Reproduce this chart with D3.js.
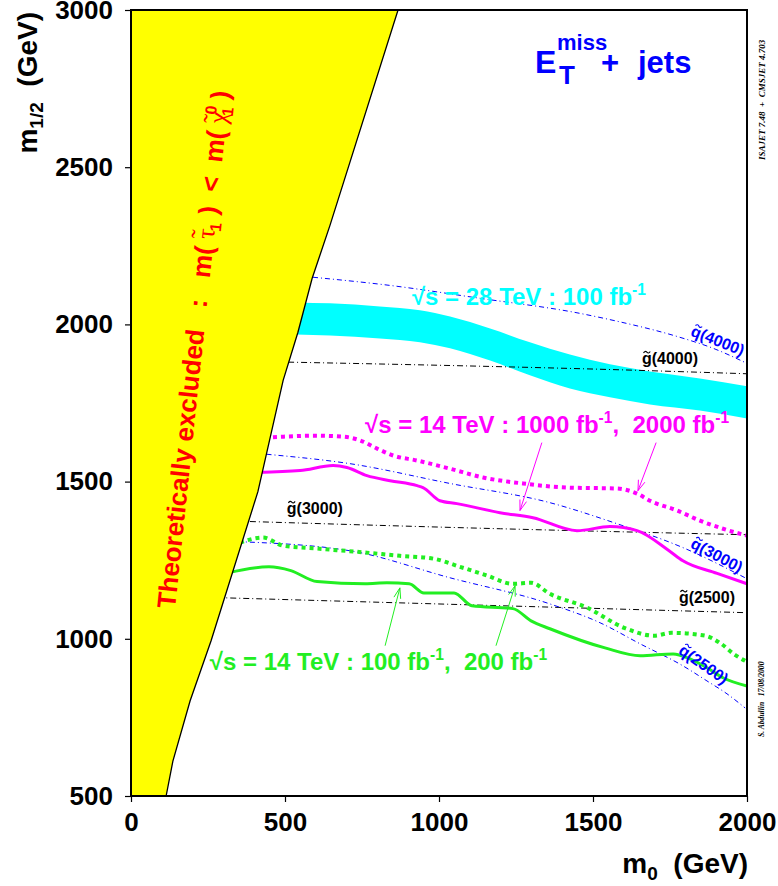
<!DOCTYPE html>
<html><head><meta charset="utf-8">
<script src="https://cdn.jsdelivr.net/npm/d3@7/dist/d3.min.js"></script>
<style>
body{margin:0;background:#fff;}
svg text{font-family:"Liberation Sans",Arial,Helvetica,sans-serif;font-weight:bold;white-space:pre;}
</style></head><body>
<svg id="chart" width="778" height="886"></svg>
<script>
// ---------------- data ----------------
const xDomain = [0, 2000];
const yDomain = [500, 3000];
const xMajorTicks = [0, 500, 1000, 1500, 2000];
const yMajorTicks = [500, 1000, 1500, 2000, 2500, 3000];
const xMinorTicks = d3.range(0, 2001, 100);
const yMinorTicks = d3.range(500, 3001, 100);

// theoretically excluded boundary (m0, m1/2)
const excludedBoundary = [[114,500],[136,611],[192,803],[260,994],[412,1468],[494,1822],[542,1975],[588,2146],[646,2315],[867,3000]];

// 28 TeV, 100 fb-1 band
const band28M0    = [500, 536, 646, 808, 938, 1036, 1166, 1295, 1425, 1555, 1685, 1847, 2000];
const band28Upper = [2072,2070,2067,2057,2045,2025,1987,1943,1904,1873,1850,1828,1803];
const band28Lower = [1970,1968,1965,1955,1943,1924,1885,1838,1796,1768,1745,1726,1701];

// 14 TeV reach contours
const reach14_2000fb = [[435,1640],[494,1643],[604,1646],[688,1643],[744,1631],[799,1605],[851,1583],[929,1567],[1036,1541],[1143,1513],[1273,1494],[1416,1481],[1578,1478],[1643,1462],[1685,1439],[1773,1408],[1847,1376],[1922,1350],[2000,1328]];
const reach14_1000fb = [[412,1529],[549,1535],[656,1551],[701,1545],[766,1519],[841,1503],[929,1487],[948,1481],[1003,1439],[1058,1430],[1198,1401],[1305,1385],[1448,1344],[1555,1357],[1643,1344],[1747,1280],[1792,1248],[1903,1208],[2000,1175]];
const reach14_200fb  = [[354,1306],[429,1322],[494,1296],[604,1287],[766,1274],[873,1264],[981,1255],[1068,1229],[1156,1201],[1240,1175],[1299,1178],[1360,1143],[1481,1099],[1601,1035],[1698,1010],[1756,1019],[1864,1010],[1912,987],[1961,949],[2000,927]];
const reach14_100fb  = [[315,1210],[448,1229],[519,1217],[604,1182],[760,1175],[831,1178],[903,1175],[951,1146],[1049,1146],[1107,1105],[1240,1096],[1299,1057],[1360,1032],[1539,971],[1653,946],[1760,952],[1815,936],[1870,908],[1922,876],[2000,850]];

// iso-mass lines
const gluino4000 = [[510,1880],[1000,1870],[1500,1858],[2000,1843]];
const gluino3000 = [[386,1373],[1200,1350],[2000,1331]];
const gluino2500 = [[280,1131],[1100,1108],[2000,1083]];
const squark4000 = [[591,2150],[841,2124],[1133,2083],[1458,2035],[1565,2013],[1782,1959],[1890,1924],[2000,1876]];
const squark3000 = [[440,1587],[711,1557],[1036,1494],[1360,1433],[1578,1366],[1792,1290],[2000,1191]];
const squark2500 = [[347,1309],[711,1280],[1036,1194],[1360,1111],[1523,1051],[1653,984],[1792,914],[1870,866],[1935,825],[1994,780]];

// labels
const gluinoLabels = [{t:"g(4000)", m0:1659, m12:1874},{t:"g(3000)", m0:506, m12:1397},{t:"g(2500)", m0:1779, m12:1114}];
const squarkLabels = [{t:"q(4000)", m0:1906, m12:1950, rot:22},{t:"q(3000)", m0:1903, m12:1267, rot:28},{t:"q(2500)", m0:1860, m12:920, rot:35}];
const magentaArrows = [[[1334,1624],[1263,1408]],[[1705,1624],[1646,1471]]];
const greenArrows   = [[[825,978],[873,1162]],[[1185,978],[1247,1169]]];

// ---------------- drawing ----------------
const svg = d3.select("#chart");
const x = d3.scaleLinear().domain(xDomain).range([131, 747]);
const y = d3.scaleLinear().domain(yDomain).range([796, 10]);

const CYAN="#00ffff", MAG="#ff00ff", GREEN="#22ee22", BLUE="#0000ff", YEL="#ffff00", RED="#ff0000";

svg.append("defs").append("clipPath").attr("id","clip")
  .append("rect").attr("x",131).attr("y",10).attr("width",616).attr("height",786);
const plot = svg.append("g").attr("clip-path","url(#clip)");

const curve = d3.line().x(d=>x(d[0])).y(d=>y(d[1])).curve(d3.curveMonotoneX);

// band
const area = d3.area().x(d=>x(d[0])).y0(d=>y(d[1])).y1(d=>y(d[2])).curve(d3.curveMonotoneX);
plot.append("path").datum(band28M0.map((m,i)=>[m, band28Lower[i], band28Upper[i]]))
  .attr("d", area).attr("fill", CYAN);

// iso-mass lines
[gluino4000, gluino3000, gluino2500].forEach(d=>{
  plot.append("path").datum(d).attr("d", curve).attr("fill","none")
    .attr("stroke","#000").attr("stroke-width",1).attr("stroke-dasharray","6,3,1,3");
});
[squark4000, squark3000, squark2500].forEach(d=>{
  plot.append("path").datum(d).attr("d", curve).attr("fill","none")
    .attr("stroke",BLUE).attr("stroke-width",1).attr("stroke-dasharray","5,3,1,3");
});

// reach contours
plot.append("path").datum(reach14_2000fb).attr("d",curve).attr("fill","none")
  .attr("stroke",MAG).attr("stroke-width",4).attr("stroke-dasharray","4,4");
plot.append("path").datum(reach14_1000fb).attr("d",curve).attr("fill","none")
  .attr("stroke",MAG).attr("stroke-width",3);
plot.append("path").datum(reach14_200fb).attr("d",curve).attr("fill","none")
  .attr("stroke",GREEN).attr("stroke-width",4).attr("stroke-dasharray","4,4");
plot.append("path").datum(reach14_100fb).attr("d",curve).attr("fill","none")
  .attr("stroke",GREEN).attr("stroke-width",3);

// excluded region
const straight = d3.line().x(d=>x(d[0])).y(d=>y(d[1]));
const poly = [[0,500]].concat(excludedBoundary).concat([[0,3000]]);
plot.append("path").datum(poly).attr("d", straight).attr("fill",YEL).attr("stroke","none");
plot.append("path").datum(excludedBoundary).attr("d", straight)
  .attr("fill","none").attr("stroke","#000").attr("stroke-width",1.3);

// axes
const axB = svg.append("g").attr("transform","translate(0,796)");
axB.call(d3.axisBottom(x).tickValues(xMinorTicks).tickSize(3).tickFormat(""));
axB.call(d3.axisBottom(x).tickValues(xMajorTicks).tickSize(6).tickPadding(11).tickFormat(d3.format("d")));
const axL = svg.append("g").attr("transform","translate(131,0)");
axL.call(d3.axisLeft(y).tickValues(yMinorTicks).tickSize(3).tickFormat(""));
axL.call(d3.axisLeft(y).tickValues(yMajorTicks).tickSize(6).tickPadding(12).tickFormat(d3.format("d")));
svg.selectAll(".domain").remove();
svg.selectAll(".tick line").attr("stroke","#000").attr("stroke-width",1.2);
svg.selectAll(".tick text").filter(function(){ return this.textContent === ""; }).remove();
svg.selectAll(".tick text").style("font-size","26px").style("font-family","'Liberation Sans',Arial,sans-serif").style("font-weight","bold").attr("fill","#000");
svg.append("rect").attr("x",131).attr("y",10).attr("width",616).attr("height",786)
  .attr("fill","none").attr("stroke","#000").attr("stroke-width",2);

// axis titles
const yl = svg.append("text").attr("transform","translate(37,12) rotate(-90)")
  .attr("text-anchor","end").style("font-size","28px");
yl.append("tspan").text("m");
yl.append("tspan").text("1/2").style("font-size","19px").attr("dy",6);
yl.append("tspan").text("  (GeV)").attr("dy",-6);
const xl = svg.append("text").attr("x",748).attr("y",873).attr("text-anchor","end").style("font-size","28px");
xl.append("tspan").text("m");
xl.append("tspan").text("0").style("font-size","19px").attr("dy",7);
xl.append("tspan").text("  (GeV)").attr("dy",-7);

// title
const tg = svg.append("g").attr("fill",BLUE);
tg.append("text").attr("x",535).attr("y",73).style("font-size","32px").text("E");
tg.append("text").attr("x",557).attr("y",50).style("font-size","22px").text("miss");
tg.append("text").attr("x",559).attr("y",84).style("font-size","26px").text("T");
tg.append("text").attr("x",601).attr("y",73).style("font-size","31px").text("+");
tg.append("text").attr("x",638).attr("y",73).style("font-size","31px").text("jets");

// side notes
svg.append("text").attr("transform","translate(765,160) rotate(-90)")
  .style("font-family","'Liberation Serif','Times New Roman',serif").style("font-style","italic")
  .style("font-size","9px").attr("fill","#000").text("ISAJET 7.48  +  CMSJET 4.703");
svg.append("text").attr("transform","translate(764,737) rotate(-90)")
  .style("font-family","'Liberation Serif','Times New Roman',serif").style("font-style","italic")
  .style("font-size","7.6px").attr("fill","#000").text("S. Abdullin   17/08/2000");

// helper: sparticle label with a drawn tilde over the first letter
function tildeMark(g, cx, cy, w, color){
  const h = w*0.28;
  g.append("path").attr("d", `M${cx-w/2},${cy+h*0.4} Q${cx-w/4},${cy-h} ${cx},${cy} T${cx+w/2},${cy-h*0.4}`)
    .attr("fill","none").attr("stroke",color).attr("stroke-width",1.1);
}
function tildeLabel(g, str, fs, color, x0){
  g.append("text").attr("x", x0).attr("y", 0).style("font-size", fs+"px").attr("fill", color).text(str);
  tildeMark(g, x0 + 0.305*fs, -0.74*fs, 0.42*fs, color);
}
gluinoLabels.forEach(l=>{
  const g = svg.append("g").attr("transform",`translate(${x(l.m0)},${y(l.m12)})`);
  tildeLabel(g, l.t, 16, "#000", 0);
});
squarkLabels.forEach(l=>{
  const g = svg.append("g").attr("transform",`translate(${x(l.m0)},${y(l.m12)}) rotate(${l.rot}) translate(0,6)`);
  tildeLabel(g, l.t, 16, BLUE, -3.5*16/2);
});

// annotation texts with superscripts
function supText(xp, yp, parts, color, fs){
  const t = svg.append("text").attr("x",xp).attr("y",yp).style("font-size",fs+"px").attr("fill",color);
  let pending = 0;
  parts.forEach(p=>{
    if (p.sup){ t.append("tspan").text(p.sup).style("font-size",(fs*0.65)+"px").attr("dy",-fs*0.42); pending = fs*0.42; }
    else { t.append("tspan").text(p.t).attr("dy", pending); pending = 0; }
  });
  return t;
}
supText(x(912), y(2061), [{t:"\u221As = 28 TeV : 100 fb"},{sup:"-1"}], CYAN, 24);
supText(x(760), y(1655), [{t:"\u221As = 14 TeV : 1000 fb"},{sup:"-1"},{t:",  2000 fb"},{sup:"-1"}], MAG, 24);
supText(x(256), y(900), [{t:"\u221As = 14 TeV : 100 fb"},{sup:"-1"},{t:",  200 fb"},{sup:"-1"}], GREEN, 24);

// arrows
function arrow(p0, p1, color){
  const X0=x(p0[0]), Y0=y(p0[1]), X1=x(p1[0]), Y1=y(p1[1]);
  const a = Math.atan2(Y1-Y0, X1-X0);
  const g = svg.append("g").attr("stroke",color).attr("stroke-width",1).attr("fill","none");
  g.append("line").attr("x1",X0).attr("y1",Y0).attr("x2",X1).attr("y2",Y1);
  [-1,1].forEach(s=>{
    const b = a + Math.PI + s*0.32;
    g.append("line").attr("x1",X1).attr("y1",Y1).attr("x2",X1+11*Math.cos(b)).attr("y2",Y1+11*Math.sin(b));
  });
}
magentaArrows.forEach(a=>arrow(a[0],a[1],MAG));
greenArrows.forEach(a=>arrow(a[0],a[1],GREEN));

// excluded region label
const eg = svg.append("g").attr("transform",`translate(${x(143)},${y(1095)}) rotate(-84)`);
const et = eg.append("text").style("font-size","26px").attr("fill",RED);
const serif = "'Liberation Serif','Times New Roman',serif";
et.append("tspan").text("Theoretically excluded   :   m( ");
et.append("tspan").text("\u03C4").style("font-family",serif).style("font-weight","normal");
et.append("tspan").text("\u02DC").style("font-family",serif).style("font-weight","normal").attr("dx",-11).attr("dy",-5);
et.append("tspan").text("1").style("font-size","16px").attr("dy",11);
et.append("tspan").text(" )  <  m( ").attr("dy",-6);
et.append("tspan").text("\u03C7").style("font-family",serif).style("font-weight","normal");
et.append("tspan").text("\u02DC").style("font-family",serif).style("font-weight","normal").attr("dx",-12).attr("dy",-5);
et.append("tspan").text("1").style("font-size","16px").attr("dy",11);
et.append("tspan").text("0").style("font-size","16px").attr("dx",-9).attr("dy",-17);
et.append("tspan").text(" )").attr("dy",11);
</script>
</body></html>
